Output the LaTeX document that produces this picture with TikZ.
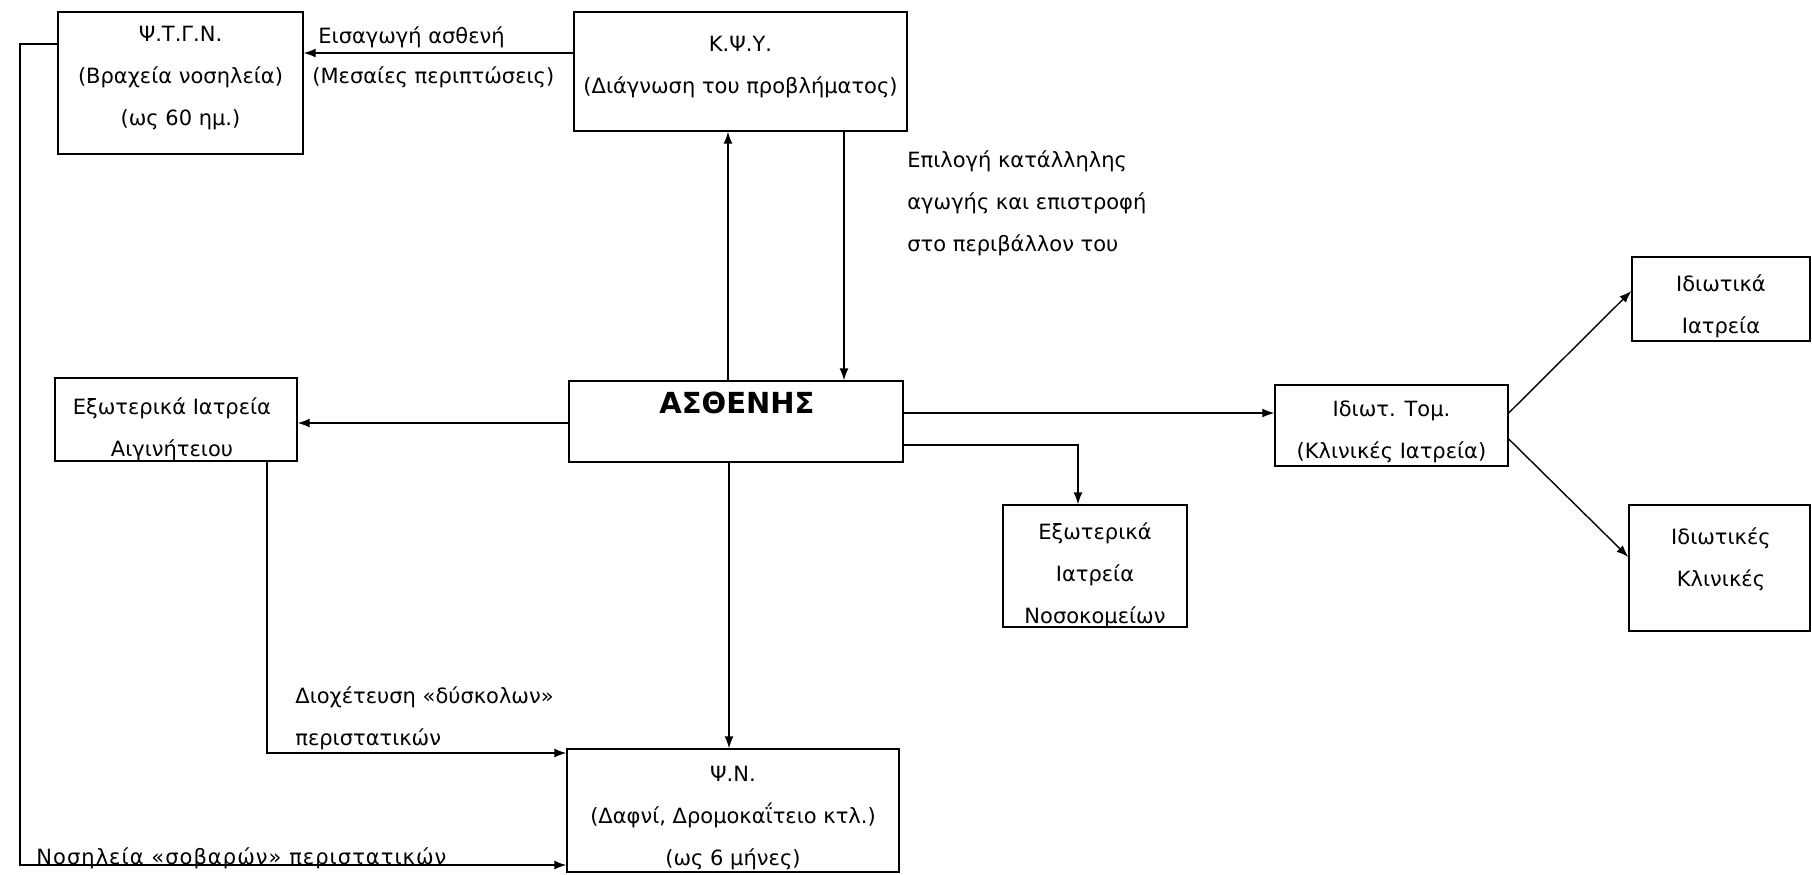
\documentclass[tikz,border=0pt]{standalone}
\usepackage{fontspec}
\setmainfont{DejaVu Sans}
\usetikzlibrary{arrows.meta}
\tikzset{
  box/.style 2 args={draw, line width=0.7pt, minimum width=#1*0.5pt, minimum height=#2*0.5pt, inner sep=0pt},
  txt/.style={align=center, inner sep=0pt, font=\fontsize{10.5}{21}\selectfont},
  lbl/.style={align=left, inner sep=0pt, font=\fontsize{10.5}{21}\selectfont},
  arr/.style={line width=0.7pt, -{Latex[length=6pt,width=4.5pt]}}
}
\begin{document}
\begin{tikzpicture}[x=0.5pt,y=-0.5pt]
\useasboundingbox (0,0) rectangle (1812,874);
% boxes
\node[box={245}{142}] (ptgn) at (180.5,83) {};
\node[box={333}{119}] (kpy) at (740.5,71.5) {};
\node[box={334}{81}] (asth) at (736,421.5) {};
\node[box={242}{83}] (aigin) at (176,419.5) {};
\node[box={332}{123}] (pn) at (733,810.5) {};
\node[box={184}{122}] (nosok) at (1095,566) {};
\node[box={233}{81}] (idtom) at (1391.5,425.5) {};
\node[box={178}{84}] (idiatr) at (1721,299) {};
\node[box={181}{126}] (idklin) at (1719.5,568) {};
% box texts
\node[txt] (tptgn) at (180.5,78) {Ψ.Τ.Γ.Ν.\\(Βραχεία νοσηλεία)\\(ως 60 ημ.)};
\node[txt] (tkpy) at (740.5,67) {Κ.Ψ.Υ.\\(Διάγνωση του προβλήματος)};
\node[inner sep=0pt, font=\fontsize{14.5}{17}\selectfont\bfseries] (tasth) at (737,403) {ΑΣΘΕΝΗΣ};
\node[txt] (taigin) at (172,429) {Εξωτερικά Ιατρεία\\Αιγινήτειου};
\node[txt] (tpn) at (733,818) {Ψ.Ν.\\(Δαφνί, Δρομοκαΐτειο κτλ.)\\(ως 6 μήνες)};
\node[txt] (tnosok) at (1095,575) {Εξωτερικά\\Ιατρεία\\Νοσοκομείων};
\node[txt] (tidtom) at (1391.5,432) {Ιδιωτ. Τομ.\\(Κλινικές Ιατρεία)};
\node[txt] (tidiatr) at (1721,306) {Ιδιωτικά\\Ιατρεία};
\node[txt] (tidklin) at (1721,559) {Ιδιωτικές\\Κλινικές};
% labels
\node[lbl, anchor=west] (l1) at (318,37) {Εισαγωγή ασθενή};
\node[lbl, anchor=west] (l2) at (312,77) {(Μεσαίες περιπτώσεις)};
\node[lbl, anchor=west] (l3) at (907,203) {Επιλογή κατάλληλης\\αγωγής και επιστροφή\\στο περιβάλλον του};
\node[lbl, anchor=west] (l4) at (295,718) {Διοχέτευση «δύσκολων»\\περιστατικών};
\node[lbl, anchor=base west, font=\fontsize{10.5}{21}\selectfont\addfontfeature{LetterSpace=5}] (l5) at (36,864) {Νοσηλεία «σοβαρών» περιστατικών};
% connectors
\draw[arr] (kpy.west |- 0,53) -- (ptgn.east |- 0,53);
\draw[arr] (asth.north -| 728,0) -- (kpy.south -| 728,0);
\draw[arr] (kpy.south -| 844,0) -- (asth.north -| 844,0);
\draw[arr] (asth.west |- 0,423) -- (aigin.east |- 0,423);
\draw[arr] (aigin.south -| 267,0) -- (267,753) -- (pn.west |- 0,753);
\draw[arr] (asth.south -| 729,0) -- (pn.north -| 729,0);
\draw[arr] (ptgn.west |- 0,44) -- (20,44) -- (20,865) -- (pn.west |- 0,865);
\draw[arr] (asth.east |- 0,413) -- (idtom.west |- 0,413);
\draw[arr] (asth.east |- 0,445) -- (1078,445) -- (nosok.north -| 1078,0);
\draw[arr] (idtom.east |- 0,413) -- (idiatr.west |- 0,291);
\draw[arr] (idtom.east |- 0,439) -- (idklin.west |- 0,557);
\end{tikzpicture}
\end{document}
